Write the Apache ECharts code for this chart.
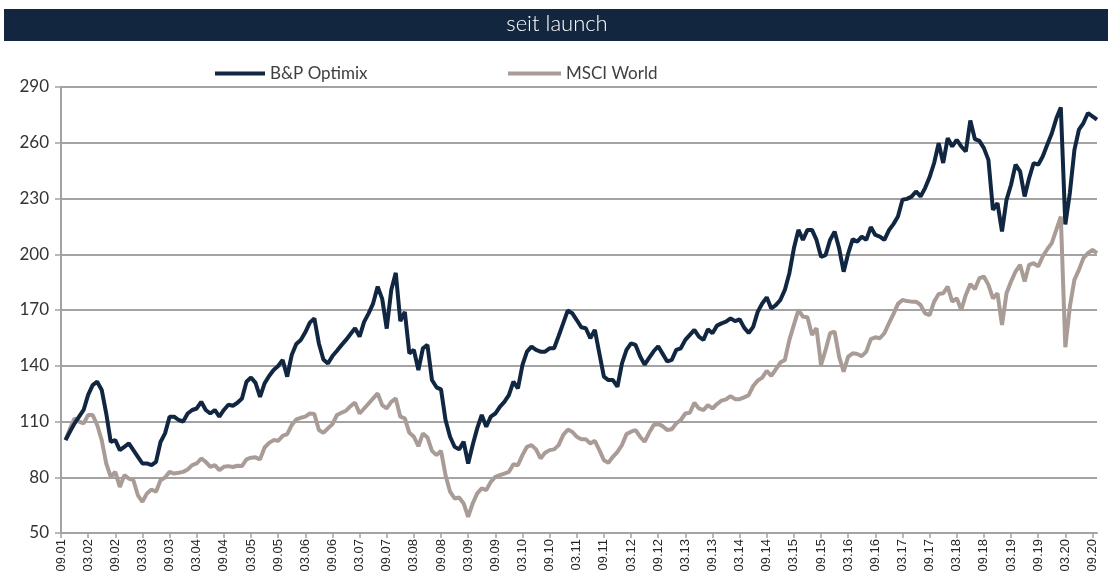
<!DOCTYPE html>
<html>
<head>
<meta charset="utf-8">
<title>seit launch</title>
<script src="https://cdn.jsdelivr.net/npm/echarts@6/dist/echarts.min.js"></script>
<style>
  html, body { margin: 0; padding: 0; background: #fff; }
  #chart { width: 1113px; height: 578px; }
</style>
</head>
<body>
<div id="chart"></div>
<script>
// Achsenbeschriftung (Halbjahre) – Monatswerte, Start 09.01
var tickLabels = ['09.01', '03.02', '09.02', '03.03', '09.03', '03.04', '09.04', '03.05', '09.05', '03.06',
  '09.06', '03.07', '09.07', '03.08', '09.08', '03.09', '09.09', '03.10', '09.10', '03.11',
  '09.11', '03.12', '09.12', '03.13', '09.13', '03.14', '09.14', '03.15', '09.15', '03.16',
  '09.16', '03.17', '09.17', '03.18', '09.18', '03.19', '09.19', '03.20', '09.20']

// B&P Optimix (indexiert, 100 = Launch)
var bpOptimix = ['-', 100, 104.6, 109, 112.6, 116.2, 124.3, 129.6, 131.4, 127, 114.3,
  99, 100, 94.6, 96.4, 98.2, 94.6, 91, 87.4, 87.4, 86.5,
  88.3, 99, 103.6, 112.6, 112.6, 110.8, 110, 114.3, 116.2, 117,
  120.6, 116.2, 114.3, 116.2, 112.6, 116.2, 119, 118.5, 120.1, 122.4,
  131.4, 133.7, 130.8, 123.3, 130.5, 134.5, 137.7, 139.9, 143.1, 134.1,
  145.8, 151.7, 153.9, 158, 163.2, 165.5, 152, 143.4, 141.2, 145.2,
  148.1, 151.1, 153.9, 157.1, 160.2, 155.7, 163.6, 168.2, 173.6, 182.6,
  176, 160, 180.8, 190, 164, 169, 146.7, 148.5, 137.7, 149.4,
  151.2, 132.3, 128.4, 127.3, 110.8, 101.8, 96.4, 95, 99.1, 87.4,
  97.3, 106.3, 113.5, 107.2, 112.6, 114.3, 117.9, 120.6, 124.2, 131.4,
  127.8, 140.4, 147.6, 150.3, 148.5, 147.6, 147.6, 149.4, 149.4, 156,
  162.8, 169.7, 168.3, 164.6, 160.7, 160.2, 154.8, 159.3, 146.7, 134.1,
  132.3, 132.3, 128.7, 141.3, 148.5, 152.1, 151.2, 145.1, 140.6, 144.2,
  147.8, 150.5, 146.4, 142.3, 143.2, 148.5, 149.4, 153.9, 156.6, 159.3,
  155.7, 153.9, 159.6, 157.5, 161.6, 162.8, 163.7, 165.5, 164, 165,
  160.5, 157.6, 160.9, 169, 173.5, 176.8, 170.8, 172.6, 175.4, 180.8,
  189.8, 203.2, 213.1, 207.7, 213.1, 213.1, 207.7, 198.6, 199.5, 207.7,
  212.2, 203.2, 190.6, 200.4, 208.1, 206.8, 209.5, 207.7, 214.6, 210.4,
  209.5, 207.7, 212.9, 216.2, 220.3, 229.3, 229.8, 231, 233.8, 231.1,
  235.6, 241.5, 249.1, 259.8, 249.1, 262.5, 258, 261.6, 258, 255.3,
  272, 262, 261, 257.1, 250.8, 223.9, 227.5, 212.3, 229.3, 237.4,
  248.2, 244.6, 231.1, 241, 249.1, 248.2, 252.6, 258.9, 265, 273,
  279, 216, 233, 256, 267, 270.6, 276, 274.2, 272.4]

// MSCI World (indexiert)
var msciWorld = ['-', 100, 106.3, 111.7, 109.9, 109, 113.5, 113.5, 108.1, 100, 87.4,
  80.2, 82.9, 74.8, 81.1, 79.3, 78.4, 70.3, 66.8, 71.3, 73.4,
  72.2, 78.4, 79.9, 82.9, 82, 82.4, 82.9, 84.2, 86.5, 87.4,
  90.1, 88.3, 85.6, 86.5, 83.8, 85.6, 86, 85.5, 86.2, 86,
  89.6, 90.5, 90.7, 89.6, 96, 98.5, 100, 99.6, 102.3, 103.2,
  108.1, 111.1, 112, 112.6, 114.3, 114, 105.4, 103.9, 106.3, 108.6,
  113.5, 114.7, 115.8, 118.3, 120.1, 114.3, 117, 119.7, 122.4, 125.1,
  118.8, 117, 120.6, 122.4, 112.6, 111.7, 103.9, 101.8, 96.7, 103.6,
  101.4, 94.2, 91.9, 94.2, 81.1, 72.2, 68.6, 69.1, 65.9, 58.7,
  65.9, 71.3, 74, 73.1, 77.5, 80.2, 81.1, 82, 82.9, 87,
  86.5, 91.9, 96.4, 97.3, 95, 90.1, 93.2, 94.6, 95, 97.3,
  102.7, 105.6, 104.5, 101.8, 100.4, 100.4, 98.2, 99.6, 94.6, 89.2,
  87.8, 91, 93.7, 97.3, 103.2, 104.5, 105.4, 101.8, 99.1, 103.9,
  108.1, 108.6, 107.5, 105.4, 105.8, 109, 110.8, 114.3, 114.7, 120.1,
  117, 116.1, 118.8, 117, 119.4, 121.2, 121.9, 123.7, 122, 122,
  123, 124.2, 129.1, 132, 133.6, 137.3, 134.5, 138.1, 141.7, 143.1,
  153.9, 162, 170, 166.4, 166.1, 156.6, 160.2, 140.4, 148.5, 157.5,
  158.4, 144.9, 136.8, 144.9, 146.7, 146.3, 145.2, 147.6, 154.3, 155.3,
  154.8, 157.5, 162.8, 167.8, 173.3, 175.4, 174.8, 174.5, 174.5, 172.7,
  168.2, 167.3, 174.5, 178.6, 179, 182.6, 174.5, 176.3, 170, 178.1,
  184, 181.2, 187.1, 188, 183.5, 176.3, 179, 161.9, 179, 185.3,
  190.7, 194.3, 185.3, 194.3, 195.2, 193.4, 198.8, 202.7, 206, 213.1,
  220.3, 150, 171.8, 186.2, 191.6, 197.9, 200.6, 202.4, 200.6]

// Monatskategorien: jede Halbjahresmarke + 5 Folgemonate
var months = []
for (var i = 0; i < bpOptimix.length; i++) {
  months.push(i % 6 === 0 ? tickLabels[i / 6] : '')
}

var chart = echarts.init(document.getElementById('chart'))
var navy = '#102641'
var taupe = '#a99c96'
var gridGray = '#a3a3a3'

var option = {
  animation: false,
  backgroundColor: '#ffffff',
  graphic: [
    {
      type: 'rect',
      shape: { x: 4, y: 9, width: 1104, height: 32 },
      style: { fill: '#13263f' }
    },
    {
      type: 'text',
      x: 557, y: 24,
      style: {
        text: 'seit launch',
        fill: '#ffffff',
        font: '300 22px Lato',
        align: 'center',
        verticalAlign: 'middle'
      }
    }
  ],
  legend: [
    {
      data: ['B&P Optimix'],
      left: 210, top: 60,
      icon: 'rect', itemWidth: 50, itemHeight: 4, itemGap: 6,
      textStyle: { fontFamily: 'Lato', fontSize: 17, color: '#404040' }
    },
    {
      data: ['MSCI World'],
      left: 503, top: 60,
      icon: 'rect', itemWidth: 53, itemHeight: 4, itemGap: 6,
      textStyle: { fontFamily: 'Lato', fontSize: 17, color: '#404040' }
    }
  ],
  grid: { left: 61, right: 16, top: 87, bottom: 45, containLabel: false },
  xAxis: {
    type: 'category',
    data: months,
    boundaryGap: false,
    axisLine: { lineStyle: { color: gridGray, width: 2 } },
    axisTick: { show: true, interval: 5, length: 5, lineStyle: { color: gridGray, width: 1.5 } },
    axisLabel: {
      interval: 5,
      rotate: 90,
      margin: 6,
      fontFamily: 'Liberation Sans',
      fontSize: 13,
      color: '#262626'
    },
    splitLine: { show: false }
  },
  yAxis: {
    type: 'value',
    min: 50,
    max: 290,
    interval: 30,
    axisLine: { show: true, lineStyle: { color: gridGray, width: 2 } },
    axisTick: { show: true, length: 6, lineStyle: { color: gridGray, width: 1.5 } },
    axisLabel: { fontFamily: 'Lato', fontSize: 17, color: '#333333', margin: 12 },
    splitLine: { lineStyle: { color: gridGray, width: 2 } }
  },
  series: [
    {
      name: 'MSCI World',
      type: 'line',
      data: msciWorld,
      showSymbol: false,
      color: taupe,
      lineStyle: { color: taupe, width: 4 }
    },
    {
      name: 'B&P Optimix',
      type: 'line',
      data: bpOptimix,
      showSymbol: false,
      color: navy,
      lineStyle: { color: navy, width: 4 }
    }
  ]
}
chart.setOption(option)
</script>
</body>
</html>
